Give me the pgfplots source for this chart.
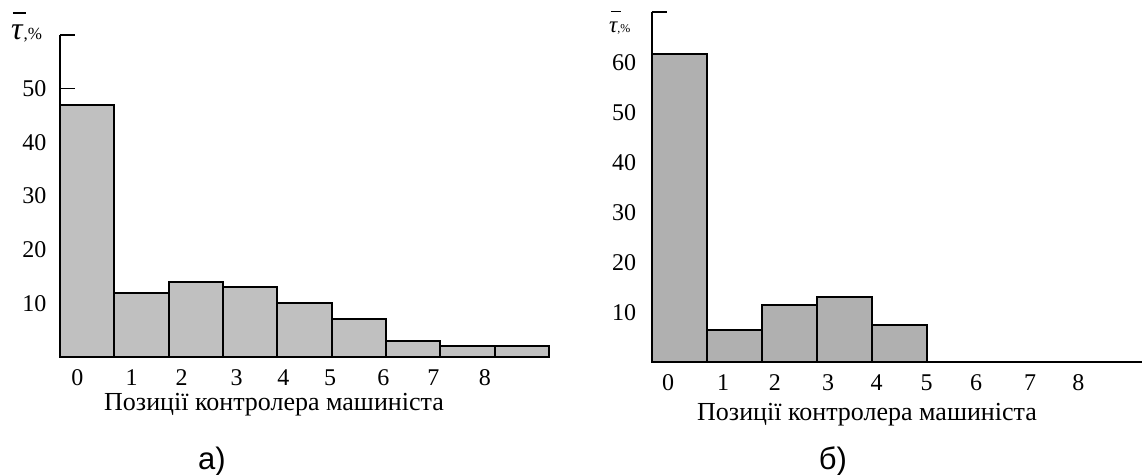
\documentclass[border=0pt]{standalone}
\usepackage{pgfplots}
\pgfplotsset{compat=1.18}
\usepackage{fontspec}
\setmainfont{Liberation Serif}
\newfontfamily\arialf{Liberation Sans}
\definecolor{barA}{RGB}{192,192,192}
\definecolor{barB}{RGB}{176,176,176}

\pgfplotstableread{
x y
0 47
1 12
2 14
3 13
4 10
5 7
6 3
7 2
8 2
}\dataA
\pgfplotstableread{
x y
0 61.6
1 6.5
2 11.5
3 13
4 7.5
5 0
6 0
7 0
8 0
}\dataB

\pgfplotsset{
 mystyle/.style={
  scale only axis, axis lines=left, axis line style={-, line width=1.8pt},
  ymin=0, xmin=-0.5,
  tick align=inside, major tick length=15pt,
  every tick/.style={black, line width=1.6pt},
  xtick style={draw=none},
  ticklabel style={font=\fontsize{24}{28}\selectfont},
  xticklabel style={yshift=6pt},
  /pgf/number format/assume math mode=true,
  ybar, bar width=1, bar shift=0pt,
  clip=false,
  xticklabels={0,1,2,3,4,5,6,7,8},
 }
}

\begin{document}
\begin{tikzpicture}
\useasboundingbox (0,0) rectangle (1142pt,474pt);
\begin{axis}[mystyle, at={(60pt,117pt)}, anchor=south west,
  width=489pt, height=322pt, xmax=8.5, ymax=60,
  ytick={10,20,30,40,50,60}, yticklabels={10,20,30,40,50,{}},
  yticklabel style={xshift=-10pt},
  xtick={-0.18,0.82,1.74,2.75,3.61,4.47,5.45,6.37,7.32}]
\addplot[fill=barA, draw=black, line width=2pt] table[x=x,y=y]{\dataA};
\end{axis}
\begin{axis}[mystyle, at={(651.7pt,111.7pt)}, anchor=south west,
  width=490pt, height=350pt, xmax=8.41, ymax=70,
  ytick={10,20,30,40,50,60,70}, yticklabels={10,20,30,40,50,60,{}},
  yticklabel style={xshift=-12pt},
  xtick={-0.2,0.8,1.74,2.71,3.59,4.5,5.4,6.38,7.26}]
\addplot[fill=barB, draw=black, line width=2pt] table[x=x,y=y]{\dataB};
\end{axis}
% y-axis labels
\node[anchor=base west, inner sep=0pt] at (11pt,434pt)
  {{\fontsize{32}{32}\selectfont\itshape\makebox[0pt][l]{\hspace{0.05em}\raisebox{0.82em}{\rule{0.4em}{0.045em}}}τ}\hspace{0.1em}{\fontsize{17}{17}\selectfont,\%}};
\node[anchor=base west, inner sep=0pt] at (609pt,441pt)
  {{\fontsize{23}{23}\selectfont\itshape\makebox[0pt][l]{\hspace{0.08em}\raisebox{0.92em}{\rule{0.45em}{0.05em}}}τ}{\fontsize{12}{12}\selectfont,\%}};
% x-axis labels
\node[anchor=base, inner sep=0pt, font=\fontsize{26}{30}\selectfont] at (274pt,64pt) {Позиції контролера машиніста};
\node[anchor=base, inner sep=0pt, font=\fontsize{26}{30}\selectfont] at (867pt,54pt) {Позиції контролера машиніста};
% panel labels
\node[anchor=base, inner sep=0pt, font=\arialf\fontsize{31}{34}\selectfont] at (212pt,5pt) {а)};
\node[anchor=base, inner sep=0pt, font=\arialf\fontsize{31}{34}\selectfont] at (833pt,5pt) {б)};
\end{tikzpicture}
\end{document}
